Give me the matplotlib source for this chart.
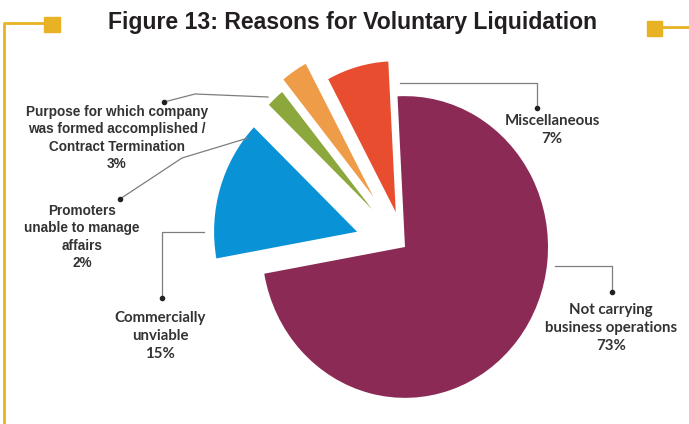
import matplotlib
matplotlib.use('Agg')
import matplotlib.pyplot as plt
from matplotlib.patches import Rectangle
from matplotlib.transforms import Affine2D

# data (clockwise from the top)
labels = ['Not carrying\nbusiness operations', 'Commercially\nunviable',
          'Promoters\nunable to manage\naffairs',
          'Purpose for which company\nwas formed accomplished /\nContract Termination',
          'Miscellaneous']
shares = [73, 15, 2, 3, 7]
colors = ['#8C2A56', '#0A92D6', '#8CA83C', '#EF9C48', '#E84D2F']
explode = [0, 0.35, 0.34, 0.40, 0.24]

W, H = 689, 424
R = 143
gold = '#E8B224'
txt = '#333333'

fig = plt.figure(figsize=(6.89, 4.24), dpi=100)
ax = fig.add_axes([0, 0, 1, 1])
# explode offsets are in data units, so scale by the radius
wedges, _ = ax.pie(shares, colors=colors, explode=[e * R for e in explode],
                   startangle=93, counterclock=False, radius=R, center=(0, 0),
                   wedgeprops=dict(linewidth=0))
ax.set_xlim(0, W)
ax.set_ylim(0, H)
ax.axis('off')

# pie is slightly taller than wide in the original
tr = Affine2D().scale(1, 1.055).translate(405, H - 247) + ax.transData
for w in wedges:
    w.set_transform(tr)

def Y(y):
    return H - y

# leader lines, in pixel coords from top-left
leaders = [
    [(555, 266), (612, 266), (612, 292)],
    [(204, 232), (162, 232), (162, 298)],
    [(248, 138), (182, 158), (120, 199)],
    [(268, 97), (195, 94), (164, 102)],
    [(400, 83), (537, 83), (537, 108)],
]
text_pos = [(611, 328), (160, 336), (82, 237), (117, 138), (552, 130)]
fonts = ['Lato', 'Lato', 'Liberation Sans', 'Liberation Sans', 'Lato']
sizes = [10.8, 10.8, 9.8, 9.8, 10.8]
spacing = [1.4, 1.4, 1.3, 1.3, 1.4]

for i in range(len(labels)):
    pts = leaders[i]
    ax.plot([p[0] for p in pts], [Y(p[1]) for p in pts], color='#7d7d7d', lw=0.9)
    ax.plot(pts[-1][0], Y(pts[-1][1]), 'o', ms=3, color='#222222')
    ax.text(text_pos[i][0], Y(text_pos[i][1]), f'{labels[i]}\n{shares[i]}%',
            ha='center', va='center', fontsize=sizes[i], fontfamily=fonts[i],
            fontweight='bold', color=txt, linespacing=spacing[i])

# title and decorative frame
ax.text(353, Y(22), 'Figure 13: Reasons for Voluntary Liquidation', ha='center', va='center',
        fontsize=16.6, fontfamily='Liberation Sans', fontweight='bold', color='#231F20')
ax.plot([3.5, 3.5, 45], [Y(424), Y(23), Y(23)], color=gold, lw=2)
ax.add_patch(Rectangle((44, Y(32)), 16, 15, color=gold))
ax.add_patch(Rectangle((647, Y(36)), 15, 15, color=gold))
ax.plot([662, W], [Y(27), Y(27)], color=gold, lw=2)

fig.savefig('out.png', dpi=100)
